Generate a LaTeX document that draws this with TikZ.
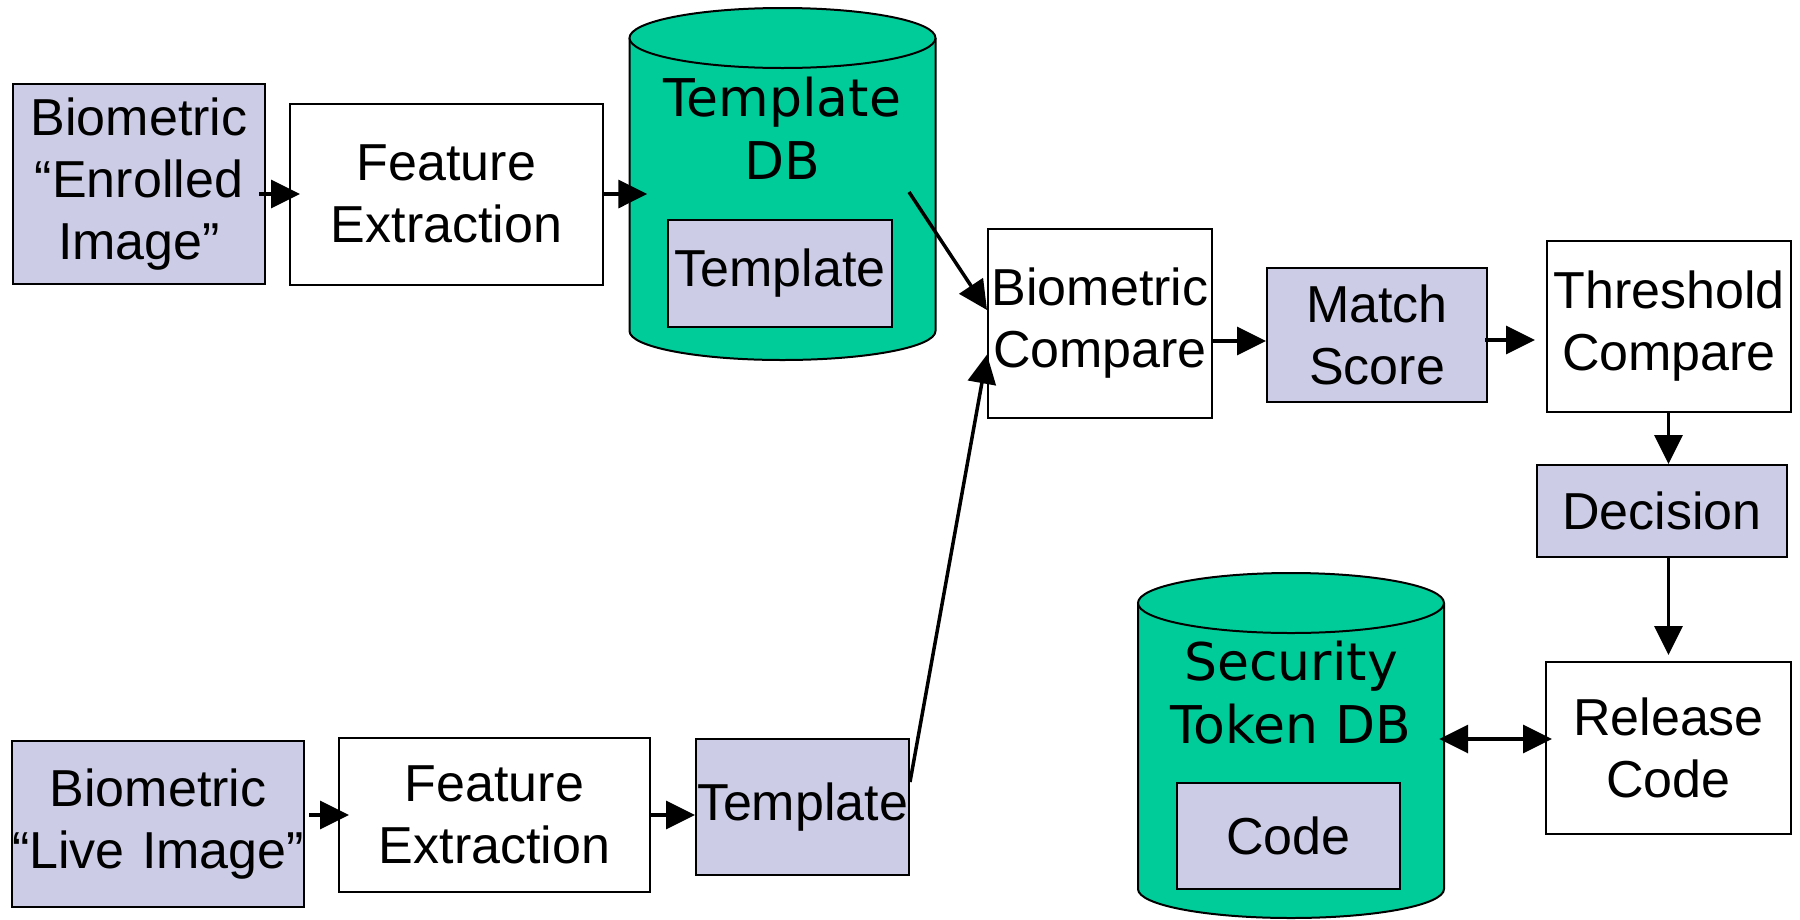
\documentclass[tikz,border=0pt]{standalone}
\usepackage{fontspec}
\setmainfont{Liberation Sans}
\newfontfamily\dbfont{DejaVu Sans}
\usetikzlibrary{arrows.meta}

\definecolor{dbgreen}{RGB}{0,204,153}
\definecolor{lav}{RGB}{204,204,230}

\tikzset{
  blk/.style 2 args={draw=black, line width=2pt, minimum width=#1, minimum height=#2,
    text width=#1, inner sep=0pt, align=center,
    font=\fontsize{52}{62}\selectfont},
  lavblk/.style 2 args={blk={#1}{#2}, fill=lav},
  wblk/.style 2 args={blk={#1}{#2}, fill=white},
  dbtext/.style={align=center, inner sep=0pt, font=\dbfont\fontsize{52}{63}\selectfont},
  phantom/.style 2 args={minimum width=#1, minimum height=#2, inner sep=0pt},
  arr/.style={line width=3.5pt, -{Triangle[length=29pt,width=28pt]}},
  dblarr/.style={line width=3.5pt, {Triangle[length=29pt,width=28pt]}-{Triangle[length=29pt,width=28pt]}},
  cylside/.style={draw=black, line width=2pt},
}

\begin{document}
\begin{tikzpicture}[x=1pt, y=-1pt]
\useasboundingbox (0,0) rectangle (1800,919);

% ---- Template DB cylinder ----
\fill[dbgreen] (629.5,38) -- (629.5,331)
  arc[start angle=180, end angle=0, x radius=153, y radius=29] -- (935.5,38) -- cycle;
\draw[cylside] (629.5,38) -- (629.5,331)
  arc[start angle=180, end angle=0, x radius=153, y radius=29] -- (935.5,38);
\filldraw[cylside, fill=dbgreen] (782.5,38) ellipse [x radius=153, y radius=30];
\node[phantom={306}{290}] (tdb) at (782.5,185) {};
\node[dbtext] (tdbtxt) at (782.5,128) {Template\\DB};
\node[lavblk={224}{107}] (tpl1) at (780,273.5) {Template};

% ---- Security Token DB cylinder ----
\fill[dbgreen] (1138,603) -- (1138,889)
  arc[start angle=180, end angle=0, x radius=153, y radius=29] -- (1444,603) -- cycle;
\draw[cylside] (1138,603) -- (1138,889)
  arc[start angle=180, end angle=0, x radius=153, y radius=29] -- (1444,603);
\filldraw[cylside, fill=dbgreen] (1291,603) ellipse [x radius=153, y radius=30];
\node[phantom={306}{280}] (sdb) at (1291,750) {};
\node[dbtext] (sdbtxt) at (1291,693) {Security\\Token DB};
\node[lavblk={223}{106}] (code) at (1288.5,836) {Code};

% ---- enrolment row ----
\node[lavblk={252}{200}] (enr) at (139,184) {Biometric\\“Enrolled\\Image”};
\node[wblk={313}{181}] (fe1) at (446.5,194) {Feature\\Extraction};

% ---- comparison chain ----
\node[wblk={224}{189}] (bc) at (1100,323.5) {Biometric\\Compare};
\node[lavblk={220}{134}] (ms) at (1377,335) {Match\\Score};
\node[wblk={244}{171}] (tc) at (1669,326.5) {Threshold\\Compare};
\node[lavblk={250}{92}] (dec) at (1662,511) {Decision};
\node[wblk={245}{172}] (rel) at (1668.5,748) {Release\\Code};

% ---- live row ----
\node[lavblk={292}{166}] (live) at (158,824) {Biometric\\“Live Image”};
\node[wblk={311}{154}] (fe2) at (494.5,815) {Feature\\Extraction};
\node[lavblk={213}{136}] (tpl2) at (802.5,807) {Template};

% ---- connectors ----
\coordinate (tdbout) at (909,192);
\coordinate (bcin1) at ([yshift=13.5pt]bc.west);
\coordinate (bcin2) at ([yshift=-31pt]bc.west);
\coordinate (tplout) at ([yshift=25pt]tpl2.east);
\coordinate (msin) at ([yshift=-6pt]ms.west);
\coordinate (tcin) at ([yshift=-13.5pt]tc.west);
\coordinate (relin) at ([yshift=9pt]rel.west);

\draw[arr, shorten <=-7pt, shorten >=-11pt] (enr.east |- fe1.west) -- (fe1.west);
\draw[arr, shorten >=-18pt] (fe1.east) -- (tdb.west |- fe1.east);
\draw[arr] (tdbout) -- (bcin1);
\draw[arr] (tplout) -- (bcin2);
\draw[arr, shorten <=4pt, shorten >=-11pt] (live.east |- fe2.west) -- (fe2.west);
\draw[arr] (fe2.east) -- (fe2.east -| tpl2.west);
\draw[arr] (bc.east |- msin) -- (msin);
\draw[arr, shorten <=-3pt, shorten >=11pt] (ms.east |- tcin) -- (tcin);
\draw[arr] (tc.south -| rel.north) -- (dec.north -| rel.north);
\draw[arr] (dec.south -| rel.north) -- ([yshift=6pt]rel.north);
\draw[dblarr, shorten <=-5pt, shorten >=-7pt] (sdb.east |- relin) -- (relin);
\end{tikzpicture}
\end{document}
